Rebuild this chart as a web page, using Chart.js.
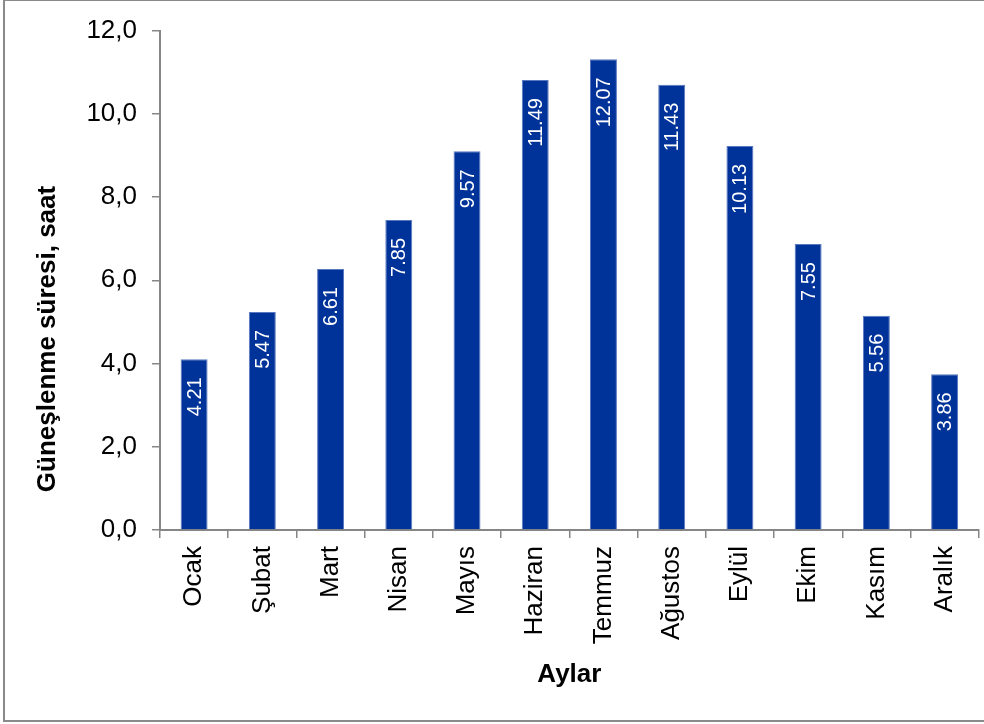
<!DOCTYPE html>
<html>
<head>
<meta charset="utf-8">
<script src="https://cdn.jsdelivr.net/npm/chart.js@4/dist/chart.umd.min.js"></script>
<style>
  body { margin: 0; background: #fff; overflow: hidden; }
  #frame {
    position: absolute; left: 3px; top: 0; width: 990px; height: 719px;
    border: 2px solid #8a8a8a; border-top-width: 1px; border-right: none;
  }
  #chart { position: absolute; left: 0; top: 0; }
</style>
</head>
<body>
<div id="frame"></div>
<canvas id="chart" width="984" height="724"></canvas>
<script>
// ---------------- DATA ----------------

const months = ["Ocak", "Şubat", "Mart", "Nisan", "Mayıs", "Haziran",
  "Temmuz", "Ağustos", "Eylül", "Ekim", "Kasım", "Aralık"];

// bar heights as drawn in the picture
const sunHours = [4.10, 5.24, 6.27, 7.45, 9.10, 10.81, 11.31, 10.70, 9.23, 6.87, 5.15, 3.74];

// value labels printed inside the bars
const barLabels = ["4.21", "5.47", "6.61", "7.85", "9.57", "11.49",
  "12.07", "11.43", "10.13", "7.55", "5.56", "3.86"];

const yTicks = [0, 2, 4, 6, 8, 10, 12];

const yTitle = "Güneşlenme süresi, saat";
const xTitle = "Aylar";

const FONT = "'Liberation Sans', Arial, sans-serif";
const GREY = "#868686";


// ---------------- PLUGINS ----------------

const barText = {
  id: "barText",
  afterDatasetsDraw(chart) {
    const ctx = chart.ctx;
    const meta = chart.getDatasetMeta(0);
    ctx.save();
    ctx.fillStyle = "#fff";
    ctx.font = "20px " + FONT;
    ctx.textAlign = "right";
    ctx.textBaseline = "middle";
    meta.data.forEach((bar, i) => {
      ctx.save();
      ctx.translate(bar.x + 1, bar.y + 18);
      ctx.rotate(-Math.PI / 2);
      ctx.fillText(barLabels[i], 0, 0);
      ctx.restore();
    });
    ctx.restore();
  }
};

const axisTitles = {
  id: "axisTitles",
  afterDraw(chart) {
    const ctx = chart.ctx;
    const area = chart.chartArea;
    ctx.save();
    ctx.fillStyle = "#000";
    ctx.font = "bold 26px " + FONT;
    ctx.textAlign = "center";
    ctx.textBaseline = "middle";

    ctx.fillText(xTitle, (area.left + area.right) / 2, 675);

    ctx.translate(48, 339);
    ctx.rotate(-Math.PI / 2);
    ctx.fillText(yTitle, 0, 0);
    ctx.restore();
  }
};


// ---------------- CHART ----------------

new Chart(document.getElementById("chart"), {
  type: "bar",
  data: {
    labels: months,
    datasets: [{
      data: sunHours,
      backgroundColor: "#003399",
      borderColor: "#5a78c0",
      borderWidth: 1,
      categoryPercentage: 1,
      barPercentage: 0.395
    }]
  },
  options: {
    responsive: false,
    animation: false,
    layout: { padding: { left: 0, top: 29, right: 5, bottom: 0 } },
    plugins: {
      legend: { display: false },
      tooltip: { enabled: false }
    },
    scales: {
      x: {
        afterFit: s => { s.height = 194; },
        grid: {
          drawOnChartArea: false,
          drawTicks: true,
          tickLength: 8,
          color: GREY,
          lineWidth: 1.5
        },
        border: { color: GREY, width: 2 },
        ticks: {
          minRotation: 90,
          maxRotation: 90,
          padding: 8,
          color: "#000",
          font: { family: FONT, size: 26 }
        }
      },
      y: {
        min: 0,
        max: 12,
        afterFit: s => { s.width = 160; },
        afterBuildTicks: s => { s.ticks = yTicks.map(v => ({ value: v })); },
        grid: {
          drawOnChartArea: false,
          drawTicks: true,
          tickLength: 8,
          color: GREY,
          lineWidth: 1.5
        },
        border: { color: GREY, width: 2 },
        ticks: {
          padding: 15,
          color: "#000",
          font: { family: FONT, size: 26 },
          callback: v => v.toFixed(1).replace(".", ",")
        }
      }
    }
  },
  plugins: [barText, axisTitles]
});
</script>
</body>
</html>
